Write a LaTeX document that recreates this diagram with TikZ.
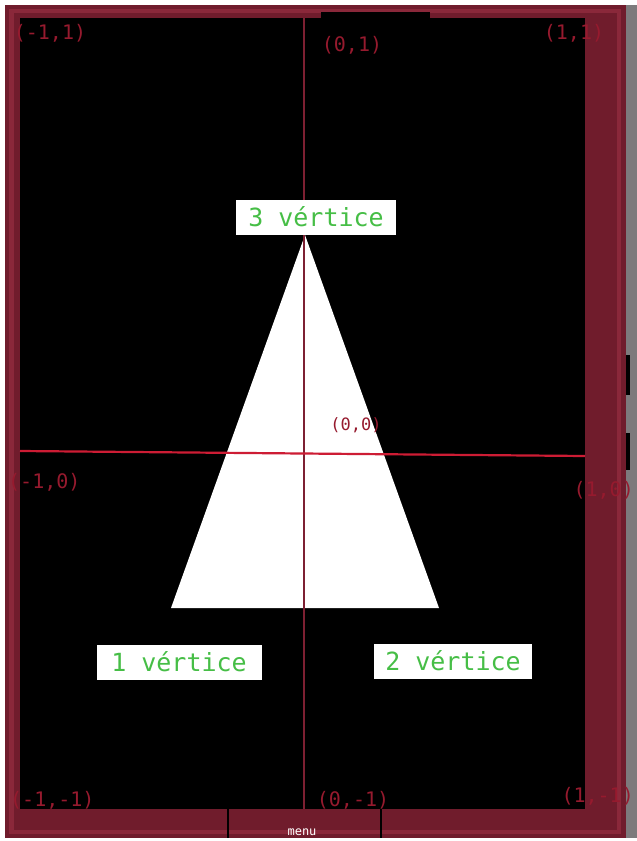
\documentclass[tikz,border=0pt]{standalone}
\usepackage{fontspec}
\setmonofont{DejaVu Sans Mono}
\definecolor{winframe}{RGB}{112, 28, 44}
\definecolor{winrim}{RGB}{138, 40, 58}
\definecolor{wingray}{RGB}{125, 122, 124}
\definecolor{axisred}{RGB}{205, 28, 52}
\definecolor{axisdark}{RGB}{125, 32, 50}
\definecolor{coordred}{RGB}{150, 26, 46}
\definecolor{vgreen}{RGB}{70, 190, 70}
\usetikzlibrary{positioning, calc}
\tikzset{
	vertexlabel/.style={rectangle, fill=white, text=vgreen, inner sep=0pt, minimum width=160pt, minimum height=35pt, font=\ttfamily\fontsize{25}{27}\selectfont},
	coordlabel/.style={inner sep=0pt, text=coordred, font=\ttfamily\fontsize{20}{22}\selectfont},
	smallcoord/.style={coordlabel, font=\ttfamily\fontsize{17}{19}\selectfont},
	axis/.style={line width=2.2pt, draw=axisred},
	vaxis/.style={line width=2pt, draw=axisdark},
}

\begin{document}
\begin{tikzpicture}[x=1pt, y=-1pt]
		\useasboundingbox (0,0) rectangle (637,841);
		\fill[white] (0,0) rectangle (637,841);
		\begin{scope}
		\clip (5,5) rectangle (637,838);
		% window frame
		\fill[wingray] (5,5) rectangle (637,838);
		\fill[winframe] (5,5) rectangle (626,838);
		\fill[winrim] (9,9) rectangle (621,834);
		\fill[winframe] (14,13) rectangle (617,830);
		\fill[black] (20,18) rectangle (585,809);
		\fill[black] (321,12) rectangle (430,18);
		\fill[black] (626,355) rectangle (630,395);
		\fill[black] (626,433) rectangle (630,470);
		\draw[black, line width=2pt] (228,809) -- (228,838);
		\draw[black, line width=2pt] (381,809) -- (381,838);
		\node[inner sep=0pt, text=white, font=\ttfamily\fontsize{12}{12}\selectfont] (menu) at (302,832) {menu};
		% triangle
		\coordinate (top) at (305,235);
		\coordinate (left) at (171,608);
		\coordinate (right) at (439,608);
		\fill[white] (top) -- (left) -- (right) -- cycle;
		% axes
		\coordinate (xa) at (20,451);
		\coordinate (xb) at (585,456);
		\coordinate (ya) at (304,18);
		\coordinate (yb) at (304,809);
		\draw[vaxis] (ya) -- (yb);
		\draw[axis] (xa) -- (xb);
		% coordinates
		\node[coordlabel] (nw) at (50,33) {(-1,1)};
		\node[coordlabel] (n) at (352,45) {(0,1)};
		\node[coordlabel] (ne) at (574,33) {(1,1)};
		\node[coordlabel, anchor=west] (w) at (8,482) {(-1,0)};
		\node[coordlabel, anchor=east] (e) at (634,490) {(1,0)};
		\node[smallcoord] (o) at (356,425) {(0,0)};
		\node[coordlabel, anchor=west] (sw) at (10,800) {(-1,-1)};
		\node[coordlabel] (s) at (353,800) {(0,-1)};
		\node[coordlabel, anchor=east] (se) at (634,796) {(1,-1)};
		% vertices
		\node[vertexlabel] (v3) at (316,217) {3 vértice};
		\node[vertexlabel, minimum width=165pt] (v1) at (179,662) {1 vértice};
		\node[vertexlabel, minimum width=158pt] (v2) at (453,661) {2 vértice};
		\end{scope}
	\end{tikzpicture}
\end{document}
